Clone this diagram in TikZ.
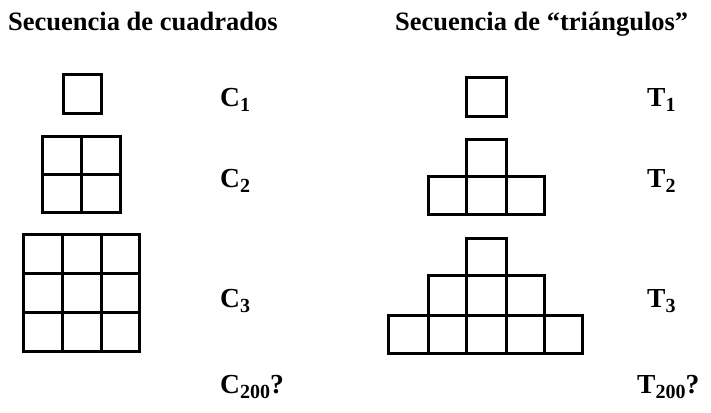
\documentclass[tikz,border=0pt]{standalone}
\usepackage{fontspec}
\setmainfont{Liberation Serif}
\newcommand{\sbs}[1]{\raisebox{-5pt}{\fontsize{20}{20}\selectfont #1}}
\tikzset{
  cell/.style={draw=black, line width=3pt, line cap=rect},
  ttl/.style={anchor=base west, inner sep=0pt, font=\fontsize{26.5}{30}\selectfont\bfseries},
  lbl/.style={anchor=base west, inner sep=0pt, font=\fontsize{27.5}{30}\selectfont\bfseries},
}
\begin{document}
\begin{tikzpicture}[x=1pt,y=-1pt]
\useasboundingbox (0,0) rectangle (711,412);
% titles
\node[ttl] (t1) at (8,31) {Secuencia de cuadrados};
\node[ttl] (t2) at (395,31) {Secuencia de “triángulos”};
% squares sequence
\draw[cell] (63,74) rectangle (101,113);
\draw[cell] (42,136) -- (120,136) (42,174) -- (120,174) (42,212) -- (120,212)
            (42,136) -- (42,212) (81,136) -- (81,212) (120,136) -- (120,212);
\draw[cell] (23,234) -- (139,234) (23,273) -- (139,273) (23,312) -- (139,312) (23,351) -- (139,351)
            (23,234) -- (23,351) (62,234) -- (62,351) (101,234) -- (101,351) (139,234) -- (139,351);
% triangles sequence
\draw[cell] (466,77) rectangle (506,116);
\draw[cell] (466,139) rectangle (506,176);
\draw[cell] (428,176) -- (544,176) (428,214) -- (544,214)
            (428,176) -- (428,214) (466,176) -- (466,214) (506,176) -- (506,214) (544,176) -- (544,214);
\draw[cell] (466,238) rectangle (506,275);
\draw[cell] (428,275) -- (544,275) (428,315) -- (544,315)
            (428,275) -- (428,315) (466,275) -- (466,315) (506,275) -- (506,315) (544,275) -- (544,315);
\draw[cell] (388,315) -- (582,315) (388,353) -- (582,353)
            (388,315) -- (388,353) (428,315) -- (428,353) (466,315) -- (466,353)
            (506,315) -- (506,353) (544,315) -- (544,353) (582,315) -- (582,353);
% labels
\node[lbl] (c1) at (220,106) {C\sbs{1}};
\node[lbl] (c2) at (220,187) {C\sbs{2}};
\node[lbl] (c3) at (220,307) {C\sbs{3}};
\node[lbl] (c200) at (220,393) {C\sbs{200}?};
\node[lbl] (tt1) at (647,106) {T\sbs{1}};
\node[lbl] (tt2) at (647,187) {T\sbs{2}};
\node[lbl] (tt3) at (647,307) {T\sbs{3}};
\node[lbl] (t200) at (637,393) {T\sbs{200}?};
\end{tikzpicture}
\end{document}
